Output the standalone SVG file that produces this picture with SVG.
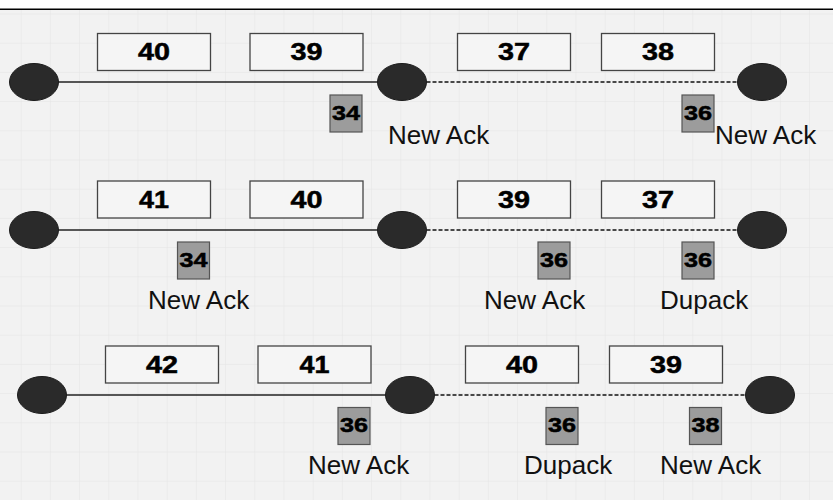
<svg xmlns="http://www.w3.org/2000/svg" width="833" height="500" viewBox="0 0 833 500">
  <style>
    .seg { fill: #f5f5f5; stroke: #444; stroke-width: 1.3; }
    .segnum { font-family: "Liberation Sans", Arial, sans-serif; font-weight: bold; font-size: 24px; text-anchor: middle; fill: #000; stroke: #000; stroke-width: 0.5; }
    .ack { fill: #9c9c9c; stroke: #555; stroke-width: 1.2; }
    .acknum { font-family: "Liberation Sans", Arial, sans-serif; font-weight: bold; font-size: 20px; text-anchor: middle; fill: #000; stroke: #000; stroke-width: 0.5; }
    .host { fill: #2a2a2a; stroke: #1a1a1a; stroke-width: 1; }
    .label { font-family: "Liberation Sans", Arial, sans-serif; font-size: 26px; fill: #111; }
    .link { stroke: #222; stroke-width: 1.3; fill: none; }
    .wireless { stroke: #111; stroke-width: 1.3; fill: none; stroke-dasharray: 4 2; }
  </style>
  <defs>
    <pattern id="grid" x="20.7" y="13.5" width="29.2" height="29.2" patternUnits="userSpaceOnUse">
      <path d="M0 0 H29.2 M0 0 V29.2" stroke="#e4e4e4" stroke-width="1" fill="none"/>
    </pattern>
  </defs>

  <!-- canvas -->
  <rect x="0" y="0" width="833" height="500" fill="#ffffff"/>
  <rect x="0" y="9.5" width="833" height="490.5" fill="#f2f2f2"/>
  <rect x="0" y="9.5" width="833" height="490.5" fill="url(#grid)"/>
  <line x1="0" y1="9.3" x2="833" y2="9.3" stroke="#000" stroke-width="1.5"/>

  <!-- links between hosts -->
  <g id="connectors">
    <line class="link" x1="58.5" y1="82" x2="377.5" y2="82"/>
    <line class="wireless" x1="426.5" y1="82" x2="737.5" y2="82"/>
    <line class="link" x1="58.5" y1="230" x2="377.5" y2="230"/>
    <line class="wireless" x1="426.5" y1="230" x2="737.5" y2="230"/>
    <line class="link" x1="66.5" y1="395" x2="385.5" y2="395"/>
    <line class="wireless" x1="434.5" y1="395" x2="745.5" y2="395"/>
  </g>

  <!-- row 1 -->
  <g id="r1-sender"><ellipse class="host" cx="34" cy="82" rx="24.5" ry="18.5"/></g>
  <g id="r1-router"><ellipse class="host" cx="402" cy="82" rx="24.5" ry="18.5"/></g>
  <g id="r1-receiver"><ellipse class="host" cx="762" cy="82" rx="24.5" ry="18.5"/></g>
  <g id="r1-seg40"><rect class="seg" x="97.5" y="33.5" width="113" height="37"/><text class="segnum" x="154" y="60" textLength="32" lengthAdjust="spacingAndGlyphs">40</text></g>
  <g id="r1-seg39"><rect class="seg" x="250" y="33.5" width="113" height="37"/><text class="segnum" x="306.5" y="60" textLength="32" lengthAdjust="spacingAndGlyphs">39</text></g>
  <g id="r1-seg37"><rect class="seg" x="457.5" y="33.5" width="113" height="37"/><text class="segnum" x="514" y="60" textLength="32" lengthAdjust="spacingAndGlyphs">37</text></g>
  <g id="r1-seg38"><rect class="seg" x="601.5" y="33.5" width="113" height="37"/><text class="segnum" x="658" y="60" textLength="32" lengthAdjust="spacingAndGlyphs">38</text></g>
  <g id="r1-ack34"><rect class="ack" x="330" y="95" width="32" height="37"/><text class="acknum" x="346" y="119.5" textLength="28" lengthAdjust="spacingAndGlyphs">34</text></g>
  <g id="r1-ack36"><rect class="ack" x="682" y="95" width="32" height="37"/><text class="acknum" x="698" y="119.5" textLength="28" lengthAdjust="spacingAndGlyphs">36</text></g>
  <text class="label" x="388" y="144">New Ack</text>
  <text class="label" x="715" y="144">New Ack</text>

  <!-- row 2 -->
  <g id="r2-sender"><ellipse class="host" cx="34" cy="230" rx="24.5" ry="18.5"/></g>
  <g id="r2-router"><ellipse class="host" cx="402" cy="230" rx="24.5" ry="18.5"/></g>
  <g id="r2-receiver"><ellipse class="host" cx="762" cy="230" rx="24.5" ry="18.5"/></g>
  <g id="r2-seg41"><rect class="seg" x="97.5" y="181" width="113" height="37"/><text class="segnum" x="154" y="207.5" textLength="30" lengthAdjust="spacingAndGlyphs">41</text></g>
  <g id="r2-seg40"><rect class="seg" x="250" y="181" width="113" height="37"/><text class="segnum" x="306.5" y="207.5" textLength="32" lengthAdjust="spacingAndGlyphs">40</text></g>
  <g id="r2-seg39"><rect class="seg" x="457.5" y="181" width="113" height="37"/><text class="segnum" x="514" y="207.5" textLength="32" lengthAdjust="spacingAndGlyphs">39</text></g>
  <g id="r2-seg37"><rect class="seg" x="601.5" y="181" width="113" height="37"/><text class="segnum" x="658" y="207.5" textLength="32" lengthAdjust="spacingAndGlyphs">37</text></g>
  <g id="r2-ack34"><rect class="ack" x="177.5" y="242" width="32" height="37"/><text class="acknum" x="193.5" y="266.5" textLength="28" lengthAdjust="spacingAndGlyphs">34</text></g>
  <g id="r2-ack36a"><rect class="ack" x="538" y="242" width="32" height="37"/><text class="acknum" x="554" y="266.5" textLength="28" lengthAdjust="spacingAndGlyphs">36</text></g>
  <g id="r2-ack36b"><rect class="ack" x="682" y="242" width="32" height="37"/><text class="acknum" x="698" y="266.5" textLength="28" lengthAdjust="spacingAndGlyphs">36</text></g>
  <text class="label" x="148" y="309">New Ack</text>
  <text class="label" x="484" y="309">New Ack</text>
  <text class="label" x="660" y="309">Dupack</text>

  <!-- row 3 -->
  <g id="r3-sender"><ellipse class="host" cx="42" cy="395" rx="24.5" ry="18.5"/></g>
  <g id="r3-router"><ellipse class="host" cx="410" cy="395" rx="24.5" ry="18.5"/></g>
  <g id="r3-receiver"><ellipse class="host" cx="770" cy="395" rx="24.5" ry="18.5"/></g>
  <g id="r3-seg42"><rect class="seg" x="105.5" y="346" width="113" height="37"/><text class="segnum" x="162" y="372.5" textLength="32" lengthAdjust="spacingAndGlyphs">42</text></g>
  <g id="r3-seg41"><rect class="seg" x="258" y="346" width="113" height="37"/><text class="segnum" x="314.5" y="372.5" textLength="30" lengthAdjust="spacingAndGlyphs">41</text></g>
  <g id="r3-seg40"><rect class="seg" x="465.5" y="346" width="113" height="37"/><text class="segnum" x="522" y="372.5" textLength="32" lengthAdjust="spacingAndGlyphs">40</text></g>
  <g id="r3-seg39"><rect class="seg" x="609.5" y="346" width="113" height="37"/><text class="segnum" x="666" y="372.5" textLength="32" lengthAdjust="spacingAndGlyphs">39</text></g>
  <g id="r3-ack36a"><rect class="ack" x="338" y="407.5" width="32" height="37"/><text class="acknum" x="354" y="432" textLength="28" lengthAdjust="spacingAndGlyphs">36</text></g>
  <g id="r3-ack36b"><rect class="ack" x="546" y="407.5" width="32" height="37"/><text class="acknum" x="562" y="432" textLength="28" lengthAdjust="spacingAndGlyphs">36</text></g>
  <g id="r3-ack38"><rect class="ack" x="689.5" y="407.5" width="32" height="37"/><text class="acknum" x="705.5" y="432" textLength="28" lengthAdjust="spacingAndGlyphs">38</text></g>
  <text class="label" x="308" y="474">New Ack</text>
  <text class="label" x="524" y="474">Dupack</text>
  <text class="label" x="660" y="474">New Ack</text>
</svg>
